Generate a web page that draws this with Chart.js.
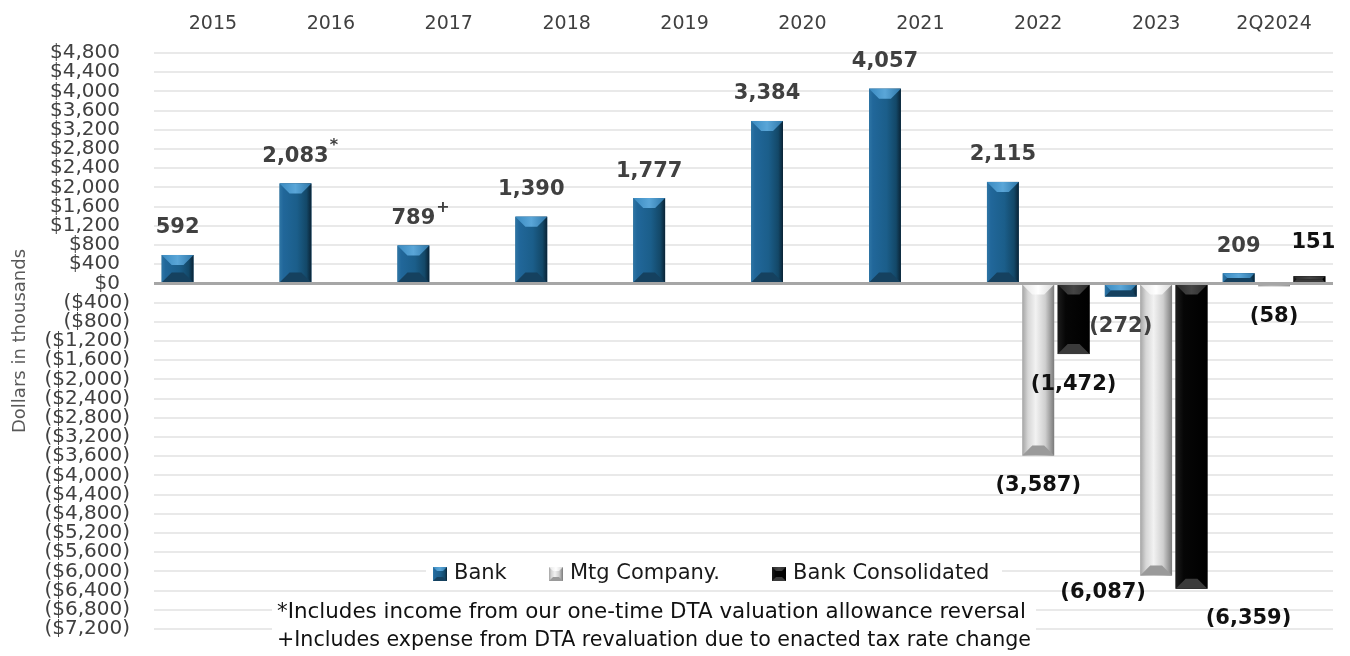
<!DOCTYPE html>
<html>
<head>
<meta charset="utf-8">
<script src="https://cdn.jsdelivr.net/npm/chart.js@4.4.1/dist/chart.umd.min.js"></script>
<style>
  html, body { margin: 0; padding: 0; background: #ffffff; }
  #wrap { width: 1350px; height: 656px; position: relative; }
</style>
</head>
<body>
<div id="wrap"><canvas id="c" width="1350" height="656"></canvas></div>
<script>
// ---- data ----
const categories = ['2015', '2016', '2017', '2018', '2019', '2020', '2021', '2022', '2023', '2Q2024'];
const bankValues = [592, 2083, 789, 1390, 1777, 3384, 4057, 2115, -272, 209];
const mtgValues = [null, null, null, null, null, null, null, -3587, -6087, -58];
const consolidatedValues = [null, null, null, null, null, null, null, -1472, -6359, 151];
const seriesNames = ['Bank', 'Mtg Company.', 'Bank Consolidated'];
const bankFootnoteMarks = ['', '*', '+', '', '', '', '', '', '', ''];
const yMin = -7200, yMax = 4800, yStep = 400;
const footnotes = [
  '*Includes income from our one-time DTA valuation allowance reversal',
  '+Includes expense from DTA revaluation due to enacted tax rate change'
];
const axisTitle = 'Dollars in thousands';

// ---- styling (not data) ----
const FONT = '"DejaVu Sans", sans-serif';
const palettes = [
  { body: [[0, '#2e75a5'], [0.12, '#21679a'], [0.55, '#1b5e8a'], [0.85, '#134868'], [1, '#0a2335']],
    top: [[0, '#3a8ac0'], [0.5, '#5aa6d8'], [1, '#2f77a8']], bottom: '#15415f', solid: '#1b5e8a', label: '#404040' },
  { body: [[0, '#a5a5a5'], [0.18, '#d6d6d6'], [0.42, '#f2f2f2'], [0.72, '#cfcfcf'], [1, '#7a7a7a']],
    top: [[0, '#e6e6e6'], [0.5, '#ffffff'], [1, '#d8d8d8']], bottom: '#9a9a9a', solid: '#d0d0d0', label: '#111111' },
  { body: [[0, '#1c1c1c'], [0.25, '#060606'], [1, '#000000']],
    top: [[0, '#2a2a2a'], [0.5, '#454545'], [1, '#2a2a2a']], bottom: '#3a3a3a', solid: '#000000', label: '#111111' }
];
// manual label nudges [dx, dy] per dataset/index (label placement tweaks)
const labelNudges = [
  {},
  { 8: [-53, -13] },
  { 8: [57, 0], 9: [4, -7] }
];

function fmtNum(v) {
  const s = Math.abs(v).toLocaleString('en-US');
  return v < 0 ? '(' + s + ')' : s;
}

function drawBevelBar(ctx, x0, x1, yTop, yBot, pal, maxB) {
  const w = x1 - x0, h = yBot - yTop;
  if (w <= 0 || h <= 0) return;
  const g = ctx.createLinearGradient(x0, 0, x1, 0);
  pal.body.forEach(s => g.addColorStop(s[0], s[1]));
  ctx.fillStyle = g;
  ctx.fillRect(x0, yTop, w, h);
  const b = Math.min(maxB || 10, h / 2, w / 2);
  const gt = ctx.createLinearGradient(x0, 0, x1, 0);
  pal.top.forEach(s => gt.addColorStop(s[0], s[1]));
  ctx.fillStyle = gt;
  ctx.beginPath();
  ctx.moveTo(x0, yTop); ctx.lineTo(x1, yTop); ctx.lineTo(x1 - b, yTop + b); ctx.lineTo(x0 + b, yTop + b);
  ctx.closePath(); ctx.fill();
  ctx.fillStyle = pal.bottom;
  ctx.beginPath();
  ctx.moveTo(x0, yBot); ctx.lineTo(x1, yBot); ctx.lineTo(x1 - b, yBot - b); ctx.lineTo(x0 + b, yBot - b);
  ctx.closePath(); ctx.fill();
}

const bevelPlugin = {
  id: 'bevelBars',
  afterDatasetsDraw(chart) {
    const ctx = chart.ctx;
    const area = chart.chartArea;
    ctx.save();
    chart.data.datasets.forEach((ds, di) => {
      const meta = chart.getDatasetMeta(di);
      meta.data.forEach((bar, i) => {
        if (ds.data[i] == null) return;
        const p = bar.getProps(['x', 'y', 'base', 'width'], true);
        const x0 = p.x - p.width / 2, x1 = p.x + p.width / 2;
        const yTop = Math.min(p.y, p.base), yBot = Math.max(p.y, p.base);
        drawBevelBar(ctx, x0, x1, yTop, yBot, palettes[di], 10);
      });
    });
    const y0 = chart.scales.y.getPixelForValue(0);
    ctx.strokeStyle = '#a6a6a6';
    ctx.lineWidth = 3;
    ctx.beginPath(); ctx.moveTo(area.left, y0); ctx.lineTo(area.right, y0); ctx.stroke();
    ctx.textAlign = 'center';
    ctx.textBaseline = 'middle';
    chart.data.datasets.forEach((ds, di) => {
      const meta = chart.getDatasetMeta(di);
      meta.data.forEach((bar, i) => {
        const v = ds.data[i];
        if (v == null) return;
        const p = bar.getProps(['x', 'y'], true);
        const n = labelNudges[di][i] || [0, 0];
        const x = p.x + n[0];
        const y = (v >= 0 ? p.y - 27 : p.y + 30) + n[1];
        const txt = fmtNum(v);
        ctx.font = 'bold 21px ' + FONT;
        ctx.fillStyle = palettes[di].label;
        ctx.fillText(txt, x, y);
        if (di === 0 && bankFootnoteMarks[i]) {
          const tw = ctx.measureText(txt).width;
          ctx.font = 'bold 16px ' + FONT;
          ctx.textAlign = 'left';
          ctx.fillText(bankFootnoteMarks[i], x + tw / 2 + 1, y - 11);
          ctx.textAlign = 'center';
        }
      });
    });
    ctx.restore();
  },
  afterDraw(chart) {
    const ctx = chart.ctx;
    ctx.save();
    ctx.fillStyle = '#ffffff';
    ctx.fillRect(426, 562, 576, 25);
    const swX = [433, 549, 772];
    ctx.font = '21px ' + FONT;
    ctx.textBaseline = 'middle';
    ctx.textAlign = 'left';
    seriesNames.forEach((name, k) => {
      drawBevelBar(ctx, swX[k], swX[k] + 14, 567, 581, palettes[k], 4);
      ctx.fillStyle = '#1a1a1a';
      ctx.fillText(name, swX[k] + 21, 574);
    });
    ctx.fillStyle = '#ffffff';
    ctx.fillRect(272, 599, 764, 57);
    ctx.fillStyle = '#111111';
    ctx.font = '21.4px ' + FONT;
    ctx.fillText(footnotes[0], 277, 612, 750);
    ctx.fillText(footnotes[1], 277, 640, 754);
    ctx.restore();
  }
};

const ctx = document.getElementById('c').getContext('2d');
new Chart(ctx, {
  type: 'bar',
  data: {
    labels: categories,
    datasets: [
      { label: seriesNames[0], data: bankValues, backgroundColor: palettes[0].solid },
      { label: seriesNames[1], data: mtgValues, backgroundColor: palettes[1].solid },
      { label: seriesNames[2], data: consolidatedValues, backgroundColor: palettes[2].solid }
    ]
  },
  options: {
    responsive: false,
    animation: false,
    devicePixelRatio: 1,
    categoryPercentage: 0.9,
    barPercentage: 0.9,
    layout: { padding: { left: 10, right: 17, top: 0, bottom: 27 } },
    plugins: {
      legend: { display: false },
      tooltip: { enabled: false }
    },
    scales: {
      x: {
        position: 'top',
        grid: { display: false },
        border: { display: false },
        ticks: { color: '#404040', font: { family: FONT, size: 19 }, padding: 10 },
        afterFit(scale) { scale.height = 53; }
      },
      y: {
        min: yMin, max: yMax,
        grid: { color: '#e9e9e9', lineWidth: 2, drawTicks: true, tickLength: 24, tickColor: 'rgba(0,0,0,0)' },
        border: { display: false },
        ticks: {
          stepSize: yStep,
          autoSkip: false,
          padding: 0,
          color: '#404040',
          font: { family: FONT, size: 20 },
          callback(v) {
            const s = '$' + Math.abs(v).toLocaleString('en-US');
            return v < 0 ? '(' + s + ')' : s + '\u2002';
          }
        },
        title: { display: true, text: axisTitle, color: '#595959', font: { family: FONT, size: 18 }, padding: { top: 0, bottom: 0 } },
        afterFit(scale) { scale.width = 144; }
      }
    }
  },
  plugins: [bevelPlugin]
});
</script>
</body>
</html>
